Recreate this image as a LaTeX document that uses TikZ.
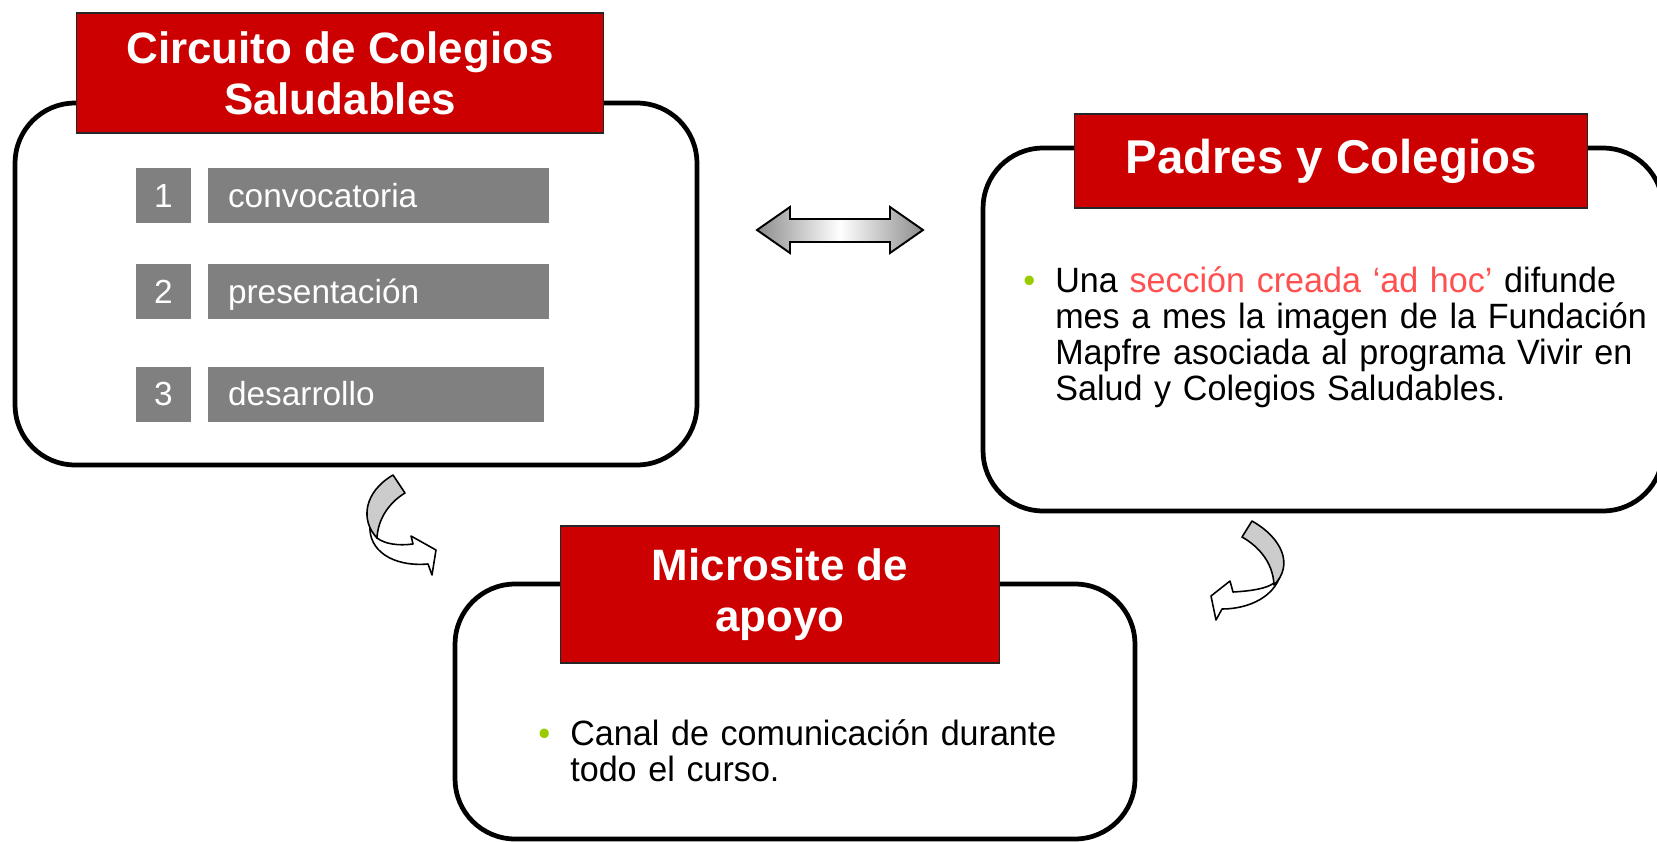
\documentclass[tikz,border=0pt]{standalone}
\usepackage{fontspec}
\setmainfont{Liberation Sans}
\newfontfamily\bodyfont[FakeStretch=0.97]{Liberation Sans}
\definecolor{titlered}{HTML}{CC0000}
\definecolor{stepgray}{HTML}{808080}
\definecolor{softred}{HTML}{FF5050}
\definecolor{leafgreen}{HTML}{99CC00}
\begin{document}
\begin{tikzpicture}[x=0.02cm,y=-0.02cm,
panel/.style={draw=black,line width=2.7pt,rounded corners=1.2cm,fill=white,inner sep=0pt},
titlebox/.style={draw=black!85,line width=0.6pt,fill=titlered,text=white,align=center,inner sep=0pt,font=\bfseries\fontsize{25}{29}\selectfont},
numbox/.style={fill=stepgray,text=white,minimum width=1.1cm,minimum height=1.1cm,inner sep=0pt,text height=13.6pt,text depth=0pt,font=\fontsize{19}{22}\selectfont},
stepbox/.style={fill=stepgray,text=white,minimum height=1.1cm,inner xsep=0.4cm,inner ysep=0pt,align=left,text height=13.6pt,text depth=0pt,font=\fontsize{19}{22}\selectfont},
itemtext/.style={anchor=north west,inner sep=0pt,text width=13cm,font=\bodyfont\fontsize{20}{20.4}\selectfont},
swaparrow/.style={draw=black,line width=1.1pt,line join=miter,left color=black!45,right color=black!45,middle color=white},
curl/.style={draw=black,line width=0.9pt,line join=round}]
\clip (0,0) rectangle (1657,842);

\node[panel,minimum width=13.64cm,minimum height=7.24cm] (P1) at (356,284) {};
\node[panel,minimum width=13.6cm,minimum height=7.26cm] (P2) at (1323,329.5) {};
\node[panel,minimum width=13.6cm,minimum height=5.1cm] (P3) at (795,711.5) {};

\node[titlebox,minimum width=10.56cm,minimum height=2.4cm] (T1) at (340,73) {Circuito de Colegios\\Saludables};
\node[titlebox,minimum width=10.28cm,minimum height=1.88cm,font=\bfseries\fontsize{27}{31}\selectfont] (T2) at (1331,161) {Padres y Colegios};
\node[titlebox,minimum width=8.8cm,minimum height=2.74cm] (T3) at (780,594.5) {Microsite de\\apoyo};

\node[numbox] (N1) at (163.5,195.5) {1};
\node[stepbox,text width=6.02cm] (S1) at (378.5,195.5) {convocatoria};
\node[numbox] (N2) at (163.5,291.5) {2};
\node[stepbox,text width=6.02cm] (S2) at (378.5,291.5) {presentación};
\node[numbox] (N3) at (163.5,394) {3};
\node[stepbox,text width=5.92cm] (S3) at (376,394) {desarrollo};

\node[itemtext] (I2) at (1023,266.5) {\leftskip=0.64cm\noindent\llap{\makebox[0.64cm][l]{\textcolor{leafgreen}{\textbullet}}}Una \textcolor{softred}{sección creada ‘ad hoc’} difunde\newline mes a mes la imagen de la Fundación\newline Mapfre asociada al programa Vivir en\newline Salud y Colegios Saludables.\par};
\node[itemtext] (I3) at (538,719.5) {\leftskip=0.64cm\noindent\llap{\makebox[0.64cm][l]{\textcolor{leafgreen}{\textbullet}}}Canal de comunicación durante\newline todo el curso.\par};

\draw[swaparrow] (757,230) -- (790,207) -- (790,219) -- (890,219) -- (890,207) -- (923,230) -- (890,253) -- (890,242) -- (790,242) -- (790,253) -- cycle;

\draw[curl,fill=white] (370,525) .. controls (368,550) and (392,567) .. (428,564) -- (432,575) -- (436,550) -- (411,536) -- (413,544) .. controls (398,546) and (385,544) .. (377,538) -- cycle;
\draw[curl,fill=black!20] (393,475) .. controls (364,492) and (360,520) .. (377,538) .. controls (378,518) and (390,502) .. (405,493) -- cycle;

\draw[curl,fill=white] (1282,568) .. controls (1278,597) and (1248,609) .. (1222,609) -- (1216,620) -- (1211,596) -- (1230,581) -- (1233,592) .. controls (1250,591) and (1266,589) .. (1274,583) -- cycle;
\draw[curl,fill=black!20] (1252,521) .. controls (1282,538) and (1294,565) .. (1274,585) .. controls (1273,562) and (1258,546) .. (1242,537) -- cycle;
\end{tikzpicture}
\end{document}
